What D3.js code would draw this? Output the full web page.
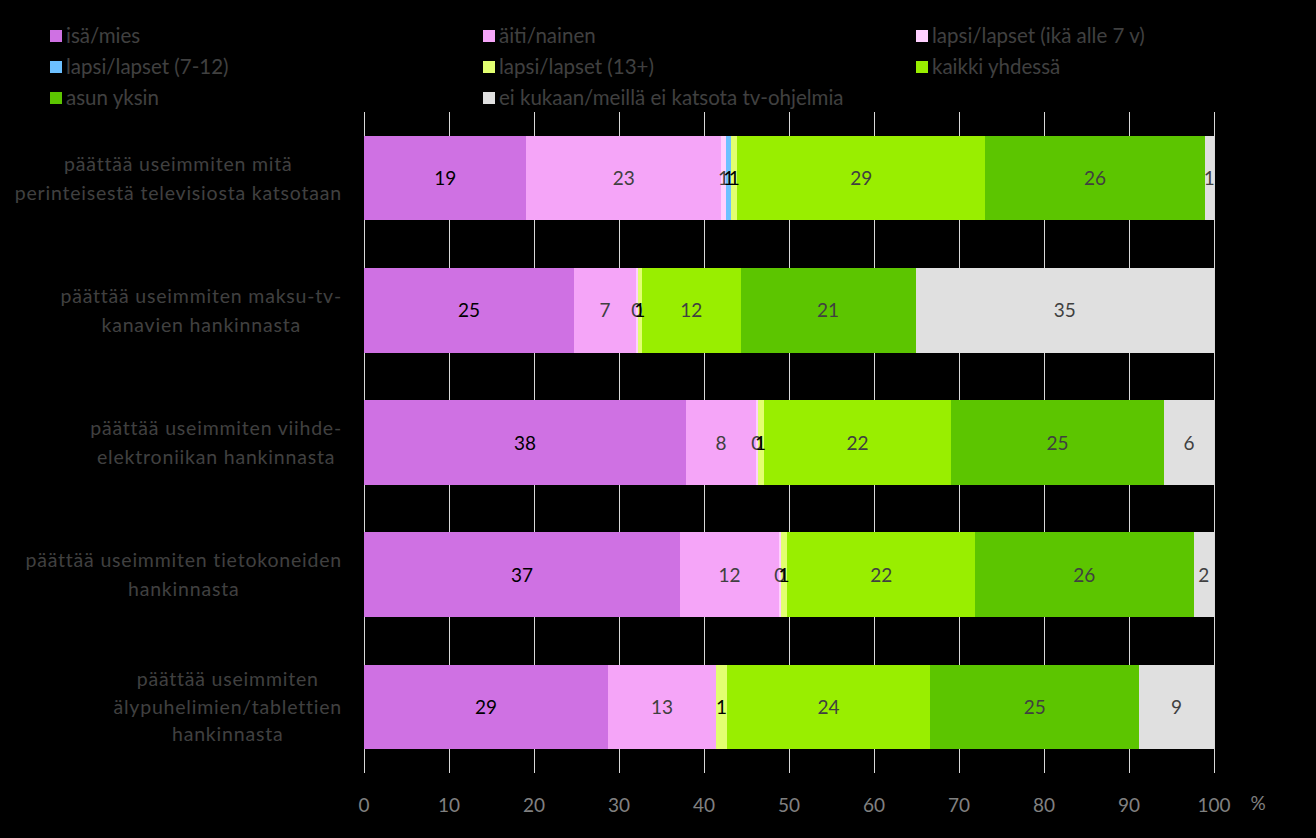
<!DOCTYPE html>
<html><head><meta charset="utf-8">
<script src="https://cdn.jsdelivr.net/npm/d3@7"></script>
<style>html,body{margin:0;padding:0;background:#000;}svg{display:block;}</style>
</head><body>
<svg id="chart" width="1316" height="838"></svg>
<script>
const categories = [
  ["päättää useimmiten mitä", "perinteisestä televisiosta katsotaan"],
  ["päättää useimmiten maksu-tv-", "kanavien hankinnasta"],
  ["päättää useimmiten viihde-", "elektroniikan hankinnasta"],
  ["päättää useimmiten tietokoneiden", "hankinnasta"],
  ["päättää useimmiten", "älypuhelimien/tablettien", "hankinnasta"]
];
const seriesNames = ["isä/mies", "äiti/nainen", "lapsi/lapset (ikä alle 7 v)", "lapsi/lapset (7-12)",
  "lapsi/lapset (13+)", "kaikki yhdessä", "asun yksin", "ei kukaan/meillä ei katsota tv-ohjelmia"];
const seriesColors = ["#cf71e3", "#f5a5f8", "#ffd0ff", "#6cc0ff", "#e2ff70", "#99ee00", "#5cc500", "#e0e0e0"];
const labelColors = ["#000", "#404040", "#404040", "#000", "#000", "#404040", "#404040", "#404040"];
// values per category, in series order
const isaMies      = [19.1, 24.7, 37.9, 37.2, 28.7];
const aitiNainen   = [22.9, 7.3, 8.2, 11.6, 12.7];
const lapsiAlle7   = [0.6, 0.2, 0.2, 0.2, 0];
const lapsi7_12    = [0.6, 0, 0, 0, 0];
const lapsi13      = [0.7, 0.5, 0.7, 0.8, 1.3];
const kaikki       = [29.2, 11.6, 22.1, 22.1, 23.9];
const asunYksin    = [25.8, 20.6, 25.0, 25.7, 24.6];
const eiKukaan     = [1.1, 35.1, 5.9, 2.4, 8.8];
const xTicks = [0, 10, 20, 30, 40, 50, 60, 70, 80, 90, 100];

const seriesValues = [isaMies, aitiNainen, lapsiAlle7, lapsi7_12, lapsi13, kaikki, asunYksin, eiKukaan];
const table = categories.map((c, i) => {
  const row = {idx: i};
  seriesNames.forEach((s, j) => row[s] = seriesValues[j][i]);
  return row;
});

const svg = d3.select("#chart");
const FONT = "Lato, 'Open Sans', sans-serif";

const x = d3.scaleLinear().domain([0, 100]).range([364, 1214]);
const y = d3.scaleBand().domain(d3.range(categories.length)).range([112, 773])
  .paddingInner(0.36).paddingOuter(0.18);

// gridlines
svg.append("g").selectAll("line").data(xTicks).join("line")
  .attr("x1", d => x(d) + 0.5).attr("x2", d => x(d) + 0.5)
  .attr("y1", 112).attr("y2", 773)
  .attr("stroke", "#d9d9d9").attr("stroke-width", 1);

const stack = d3.stack().keys(seriesNames)(table);

const g = svg.append("g").attr("shape-rendering", "crispEdges");
stack.forEach((layer, j) => {
  g.append("g").attr("fill", seriesColors[j]).selectAll("rect").data(layer).join("rect")
    .attr("x", d => x(d[0]))
    .attr("width", d => x(d[1]) - x(d[0]))
    .attr("y", (d, i) => y(i))
    .attr("height", y.bandwidth());
});
const lg = svg.append("g");
stack.forEach((layer, j) => {
  lg.append("g").selectAll("text").data(layer.filter(d => d[1] - d[0] > 0)).join("text")
    .attr("x", d => x((d[0] + d[1]) / 2))
    .attr("y", d => y(d.data.idx) + y.bandwidth() / 2 + 7)
    .attr("text-anchor", "middle")
    .attr("font-family", FONT).attr("font-size", 19)
    .attr("fill", labelColors[j])
    .text(d => Math.round(d[1] - d[0]));
});

// x axis labels
svg.append("g").selectAll("text").data(xTicks).join("text")
  .attr("x", d => x(d)).attr("y", 812)
  .attr("text-anchor", "middle")
  .attr("font-family", FONT).attr("font-size", 19).attr("fill", "#808080")
  .text(d => d);
svg.append("text").attr("x", 1258).attr("y", 810).attr("text-anchor", "middle")
  .attr("font-family", FONT).attr("font-size", 19).attr("fill", "#808080").text("%");

// category labels
categories.forEach((lines, i) => {
  const cy = y(i) + y.bandwidth() / 2;
  const lh = lines.length === 3 ? 27.5 : 29;
  const grp = svg.append("g");
  const texts = grp.selectAll("text").data(lines).join("text")
    .attr("y", (d, k) => cy + (k - (lines.length - 1) / 2) * lh + 7)
    .attr("text-anchor", "middle")
    .attr("font-family", FONT).attr("font-size", 19.5).attr("letter-spacing", 0.8)
    .attr("fill", "#404040")
    .text(d => d);
  let maxW = 0;
  texts.each(function() { maxW = Math.max(maxW, this.getComputedTextLength()); });
  texts.attr("x", 342 - maxW / 2);
});

// legend
const legCols = [50, 483, 916], legRows = [36, 67, 98];
const leg = svg.append("g").selectAll("g").data(seriesNames).join("g")
  .attr("transform", (d, i) => `translate(${legCols[i % 3]},${legRows[Math.floor(i / 3)]})`);
leg.append("rect").attr("x", 0).attr("y", -6).attr("width", 12).attr("height", 12)
  .attr("fill", (d, i) => seriesColors[i]);
leg.append("text").attr("x", 16).attr("y", 7)
  .attr("font-family", FONT).attr("font-size", 20.5).attr("fill", "#404040")
  .text(d => d);
</script>
</body></html>
